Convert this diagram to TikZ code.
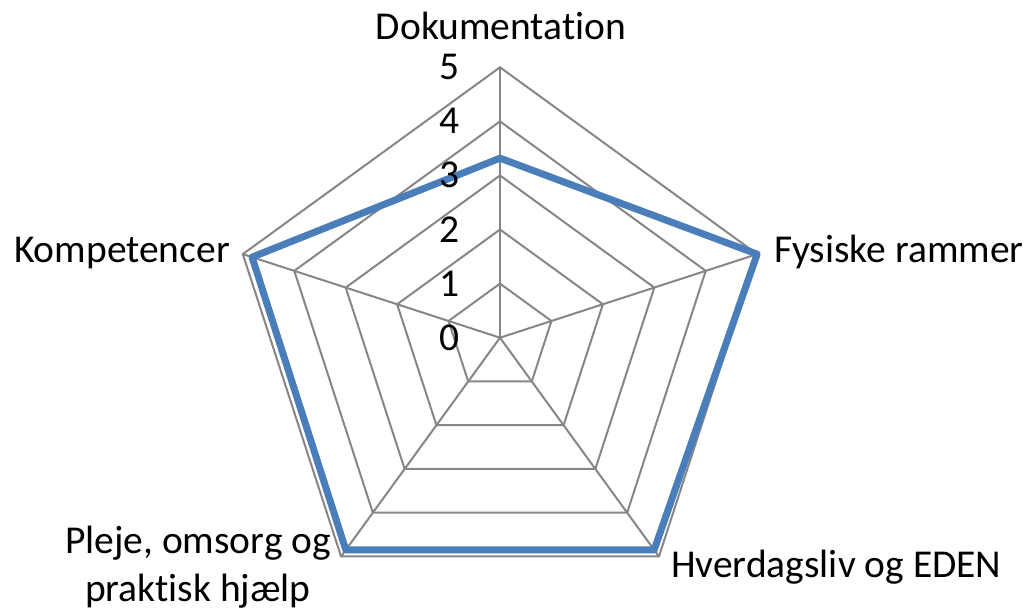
\documentclass[tikz,border=0pt]{standalone}
\usepackage{fontspec}
\setmainfont[Ligatures=NoCommon]{Carlito}
\definecolor{gridgray}{RGB}{134,134,134}
\definecolor{serieblue}{RGB}{74,126,187}
\tikzset{
  grid line/.style={draw=gridgray, line width=2pt},
  serie line/.style={draw=serieblue, line width=7pt, line join=round},
  lbl/.style={inner sep=0pt, font=\fontsize{39.5}{48.5}\selectfont},
}

\begin{document}
\begin{tikzpicture}[x=1pt,y=1pt]
\useasboundingbox (0,-610) rectangle (1034,0);
\begin{scope}[shift={(500,-337.7)}, x=54.08pt, y=54.08pt]
\foreach \r in {1,...,5}
  \draw[grid line] (90:\r) -- (18:\r) -- (-54:\r) -- (-126:\r) -- (162:\r) -- cycle;
\foreach \a in {90,18,-54,-126,162}
  \draw[grid line] (0,0) -- (\a:5);
\draw[serie line] (90:3.32) -- (18:5) -- (-54:4.85) -- (-126:4.85) -- (162:4.82) -- cycle;
\end{scope}
\foreach \v in {0,...,5}
  \node[lbl, anchor=base east] (tick\v) at (460,-350.2+54.08*\v) {\v};
\node[lbl, anchor=base] (doku) at (501,-39.3) {Dokumentation};
\node[lbl, anchor=base west] (fysisk) at (774,-262.3) {Fysiske rammer};
\node[lbl, anchor=base west] (hverdag) at (671,-577.3) {Hverdagsliv og EDEN};
\node[lbl, anchor=base east] (kompet) at (230,-262.3) {Kompetencer};
\node[lbl, anchor=base, align=center] (pleje) at (198,-601.7) {Pleje, omsorg og\\praktisk hjælp};
\end{tikzpicture}
\end{document}
